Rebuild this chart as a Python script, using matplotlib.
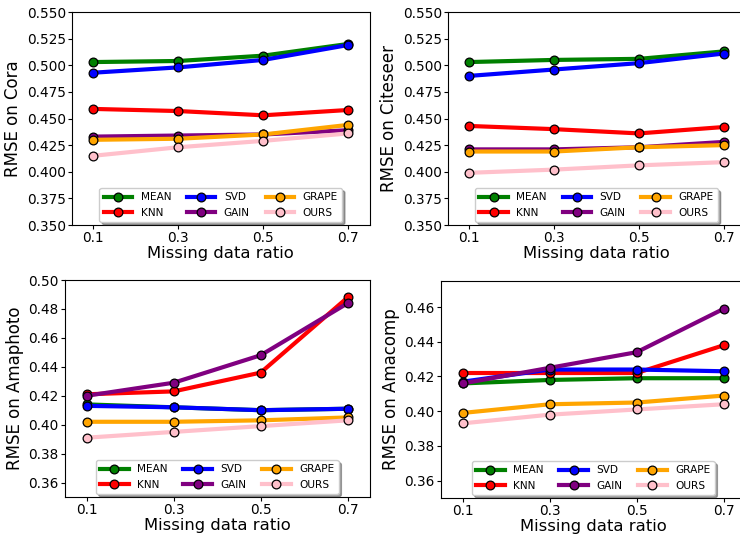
import matplotlib
matplotlib.use("Agg")
import matplotlib.pyplot as plt

ratios = [0.1, 0.3, 0.5, 0.7]
methods = ["MEAN", "KNN", "SVD", "GAIN", "GRAPE", "OURS"]
colors = ["green", "red", "blue", "purple", "orange", "pink"]

cora = {
    "MEAN": [0.503, 0.504, 0.509, 0.520],
    "KNN": [0.459, 0.457, 0.453, 0.458],
    "SVD": [0.493, 0.498, 0.505, 0.519],
    "GAIN": [0.433, 0.434, 0.435, 0.439],
    "GRAPE": [0.430, 0.431, 0.435, 0.444],
    "OURS": [0.415, 0.423, 0.429, 0.436],
}
citeseer = {
    "MEAN": [0.503, 0.505, 0.506, 0.513],
    "KNN": [0.443, 0.440, 0.436, 0.442],
    "SVD": [0.490, 0.496, 0.502, 0.511],
    "GAIN": [0.421, 0.421, 0.423, 0.428],
    "GRAPE": [0.419, 0.419, 0.423, 0.425],
    "OURS": [0.399, 0.402, 0.406, 0.409],
}
amaphoto = {
    "MEAN": [0.414, 0.412, 0.410, 0.411],
    "KNN": [0.421, 0.423, 0.436, 0.488],
    "SVD": [0.413, 0.412, 0.410, 0.411],
    "GAIN": [0.420, 0.429, 0.448, 0.484],
    "GRAPE": [0.402, 0.402, 0.403, 0.405],
    "OURS": [0.391, 0.395, 0.399, 0.403],
}
amacomp = {
    "MEAN": [0.416, 0.418, 0.419, 0.419],
    "KNN": [0.422, 0.422, 0.422, 0.438],
    "SVD": [0.417, 0.424, 0.424, 0.423],
    "GAIN": [0.416, 0.425, 0.434, 0.459],
    "GRAPE": [0.399, 0.404, 0.405, 0.409],
    "OURS": [0.393, 0.398, 0.401, 0.404],
}

top_ticks = [0.350, 0.375, 0.400, 0.425, 0.450, 0.475, 0.500, 0.525, 0.550]
bl_ticks = [0.36, 0.38, 0.40, 0.42, 0.44, 0.46, 0.48, 0.50]
br_ticks = [0.36, 0.38, 0.40, 0.42, 0.44, 0.46]

# (data, ylabel, [left, top, width, height] in px, ylim, yticks, fmt, cut_right)
panels = [
    (cora, "RMSE on Cora", [72, 12, 297.5, 213], (0.35, 0.55), top_ticks, "{:.3f}", False),
    (citeseer, "RMSE on Citeseer", [448, 12, 297, 213], (0.35, 0.55), top_ticks, "{:.3f}", True),
    (amaphoto, "RMSE on Amaphoto", [65, 280, 304.5, 217], (0.35, 0.50), bl_ticks, "{:.2f}", False),
    (amacomp, "RMSE on Amacomp", [441, 281, 304.5, 217], (0.35, 0.475), br_ticks, "{:.2f}", True),
]

W, H = 740, 535
fig = plt.figure(figsize=(W / 100, H / 100), dpi=100)

for data, ylabel, (px, py, pw, ph), ylim, yticks, fmt, cut_right in panels:
    ax = fig.add_axes([px / W, (H - py - ph) / H, pw / W, ph / H])
    for m, c in zip(methods, colors):
        ax.plot(ratios, data[m], color=c, lw=3, marker="o", markersize=6.3,
                markeredgecolor="black", markeredgewidth=0.9, label=m)
    ax.set_xlim(0.05, 0.75)
    ax.set_ylim(*ylim)
    ax.set_xticks(ratios)
    ax.set_xticklabels([str(r) for r in ratios])
    ax.set_yticks(yticks)
    ax.set_yticklabels([fmt.format(t) for t in yticks])
    ax.tick_params(labelsize=9.8, length=3, pad=1.5)
    if cut_right:
        ax.spines["right"].set_visible(False)
    ax.set_xlabel("Missing data ratio", fontsize=11.8, labelpad=0.5)
    ax.set_ylabel(ylabel, fontsize=12, labelpad=3)
    ax.legend(loc="lower center", ncol=3, fontsize=7.6, shadow=True,
              handlelength=2.7, columnspacing=1.5, borderaxespad=0.3,
              framealpha=1, edgecolor="#cccccc")

fig.savefig("out.png", dpi=100)
